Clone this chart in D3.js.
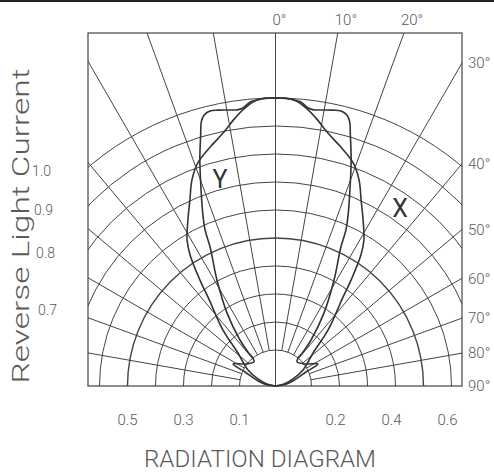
<!DOCTYPE html>
<html>
<head>
<meta charset="utf-8">
<script src="https://cdn.jsdelivr.net/npm/d3@7"></script>
<style>
  body { margin: 0; background: #fff; }
  text { font-family: Roboto, "Liberation Sans", sans-serif; font-weight: 300; fill: #5a5a5a; }
</style>
</head>
<body>
<div id="chart"></div>
<script>
// grid
const ringValues = [0.1, 0.2, 0.3, 0.4, 0.5, 0.6, 0.7, 0.8, 0.9, 1.0];
const radialAngles = [-80, -70, -60, -50, -40, -30, -20, -10, 0, 10, 20, 30, 40, 50, 60, 70, 80];

// tick labels
const topAngleLabels = [0, 10, 20];
const rightAngleLabels = [30, 40, 50, 60, 70, 80, 90];
const leftValueLabels = [1.0, 0.9, 0.8, 0.7];
const bottomLeftLabels = [0.5, 0.3, 0.1];
const bottomRightLabels = [0.2, 0.4, 0.6];

// half curves [angle from axis in deg, relative value] (pattern is symmetric)
const curveX = [[0, 1.0], [1.9, 1.0], [3.7, 0.995], [5.1, 0.99], [6.7, 0.971], [7.9, 0.967],
  [9.8, 0.972], [11.8, 0.978], [13.4, 0.981], [14.8, 0.972], [15.7, 0.951], [16.6, 0.907],
  [18.5, 0.823], [20.8, 0.72], [23.0, 0.635], [24.3, 0.583], [25.2, 0.52], [28.9, 0.404],
  [33.6, 0.284], [37.7, 0.179], [39.0, 0.128], [38.8, 0.1], [41.9, 0.087], [53.3, 0.103],
  [62.6, 0.142], [65.3, 0.091], [74, 0.036], [81, 0.006]];
const curveY = [[0, 1.0], [3.7, 0.995], [6.3, 0.97], [8.6, 0.939], [11.7, 0.894], [15.3, 0.856],
  [19.2, 0.815], [22.1, 0.765], [24.7, 0.703], [27.8, 0.642], [31.2, 0.581], [33.1, 0.53],
  [35.5, 0.436], [37.2, 0.37], [43.2, 0.246], [48.7, 0.15], [53.6, 0.116], [59.8, 0.085],
  [68.2, 0.039], [76.8, 0.003]];

const width = 494, height = 474;
const box = {left: 88, right: 462, top: 33, bottom: 386};
const cx = 275.5, cy = box.bottom;

var svg = d3.select("#chart").append("svg")
    .attr("width", width)
    .attr("height", height);

// line on top edge
svg.append("line")
    .attr("x1", 0).attr("x2", width)
    .attr("y1", 1).attr("y2", 1)
    .attr("stroke", "#222").attr("stroke-width", 2);

svg.append("clipPath").attr("id", "box")
  .append("rect")
    .attr("x", box.left).attr("y", box.top)
    .attr("width", box.right - box.left).attr("height", box.bottom - box.top);

var r = d3.scaleLinear().domain([0, 1]).range([8, 288]);
const POLE = r.invert(0);
const rad = d => d * Math.PI / 180;

var grid = svg.append("g")
    .attr("clip-path", "url(#box)")
  .append("g")
    .attr("transform", "translate(" + cx + "," + cy + ")");

//rings
grid.selectAll("circle")
    .data(ringValues)
    .enter()
    .append("circle")
      .attr("r", d => r(d))
      .attr("fill", "none")
      .attr("stroke", "#444")
      .attr("stroke-width", d => d === 0.5 ? 1.4 : 1);

//spokes
grid.selectAll("line")
    .data(radialAngles)
    .enter()
    .append("line")
      .attr("x1", d => d === 0 ? 0 : r(0.1) * Math.sin(rad(d)))
      .attr("y1", d => d === 0 ? 0 : -r(0.1) * Math.cos(rad(d)))
      .attr("x2", d => 700 * Math.sin(rad(d)))
      .attr("y2", d => -700 * Math.cos(rad(d)))
      .attr("stroke", "#444")
      .attr("stroke-width", 1);

//frame
svg.append("rect")
    .attr("x", box.left).attr("y", box.top)
    .attr("width", box.right - box.left).attr("height", box.bottom - box.top)
    .attr("fill", "none")
    .attr("stroke", "#444")
    .attr("stroke-width", 1.2);

//curves
function fullCurve(half) {
    const left = half.slice(1).reverse().map(d => [-d[0], d[1]]);
    return [[-90, POLE]].concat(left, half, [[90, POLE]]);
}

var line = d3.lineRadial()
    .angle(d => rad(d[0]))
    .radius(d => Math.max(0, r(d[1])))
    .curve(d3.curveCatmullRom.alpha(0.5));

var plot = svg.append("g")
    .attr("transform", "translate(" + cx + "," + cy + ")");

plot.selectAll("path")
    .data([curveX, curveY])
    .enter()
    .append("path")
      .attr("d", d => line(fullCurve(d)))
      .attr("fill", "none")
      .attr("stroke", "#333")
      .attr("stroke-width", 1.6);

//angle labels on top
svg.selectAll(".top-label")
    .data(topAngleLabels)
    .enter()
    .append("text")
      .attr("class", "top-label")
      .attr("x", d => cx + (cy - box.top) * Math.tan(rad(d)) - 3)
      .attr("y", 25)
      .attr("font-size", 15)
      .text(d => d + "°");

//angle labels on right
svg.selectAll(".right-label")
    .data(rightAngleLabels)
    .enter()
    .append("text")
      .attr("class", "right-label")
      .attr("x", box.right + 6)
      .attr("y", d => cy - (box.right - cx) / Math.tan(rad(d)))
      .attr("dy", "0.35em")
      .attr("font-size", 15)
      .text(d => d + "°");

//value labels on left
svg.selectAll(".left-label")
    .data(leftValueLabels)
    .enter()
    .append("text")
      .attr("class", "left-label")
      .attr("text-anchor", "end")
      .attr("x", d => 51 + (1 - d) * 20)
      .attr("y", d => cy - Math.sqrt(r(d) * r(d) - (cx - box.left) * (cx - box.left)) + 4)
      .attr("dy", "0.35em")
      .attr("font-size", 14)
      .text(d => d.toFixed(1));

//value labels at the bottom
svg.selectAll(".bottom-label")
    .data(bottomLeftLabels.map(v => [v, -1]).concat(bottomRightLabels.map(v => [v, 1])))
    .enter()
    .append("text")
      .attr("class", "bottom-label")
      .attr("text-anchor", "middle")
      .attr("x", d => cx + d[1] * r(d[0]) - (d[1] > 0 ? 4 : 0))
      .attr("y", 425)
      .attr("font-size", 15)
      .text(d => d[0].toFixed(1));

//curve names
svg.append("text")
    .attr("x", 220).attr("y", 188)
    .attr("text-anchor", "middle")
    .attr("font-size", 25)
    .style("font-weight", 400)
    .style("fill", "#333")
    .text("Y");

svg.append("text")
    .attr("x", 400).attr("y", 217)
    .attr("text-anchor", "middle")
    .attr("font-size", 25)
    .style("font-weight", 400)
    .style("fill", "#333")
    .text("X");

//axis title
svg.append("text")
    .attr("text-anchor", "middle")
    .attr("transform", "translate(29," + 226 + ") rotate(-90)")
    .attr("font-size", 23)
    .attr("textLength", 315)
    .attr("lengthAdjust", "spacingAndGlyphs")
    .text("Reverse Light Current");

//chart title
svg.append("text")
    .attr("text-anchor", "middle")
    .attr("x", 260)
    .attr("y", 467)
    .attr("font-size", 24)
    .attr("textLength", 232)
    .attr("lengthAdjust", "spacingAndGlyphs")
    .text("RADIATION DIAGRAM");
</script>
</body>
</html>
